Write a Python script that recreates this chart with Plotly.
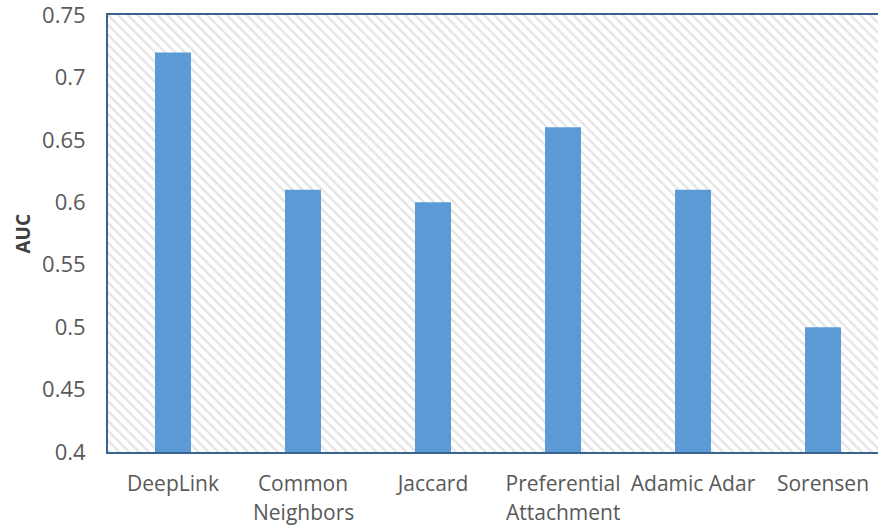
import plotly.graph_objects as go

categories = ["DeepLink", "Common<br>Neighbors", "Jaccard", "Preferential<br>Attachment", "Adamic Adar", "Sorensen"]
auc_values = [0.72, 0.61, 0.60, 0.66, 0.61, 0.50]
y_ticks = [0.4, 0.45, 0.5, 0.55, 0.6, 0.65, 0.7, 0.75]
y_tick_labels = ["0.4", "0.45", "0.5", "0.55", "0.6", "0.65", "0.7", "0.75"]

font_family = "Open Sans, Liberation Sans, sans-serif"
border_color = "#3A6291"
text_color = "#595959"
fs = 21

y_min, y_max = y_ticks[0], y_ticks[-1]
x_lo, x_hi = -0.5, len(categories) - 0.5 - 10 / 130

first_lines = [c.split("<br>")[0] for c in categories]
second_lines = [c.split("<br>")[1] if "<br>" in c else "" for c in categories]

W, H = 878, 525
L, T, B = 108, 15, 525 - 452
plot_h = H - T - B
plot_w = W - L

fig = go.Figure()

# hatched plot-area background
fig.add_trace(go.Bar(
    x=[(x_lo + x_hi) / 2], y=[y_max - y_min], base=[y_min], width=[x_hi - x_lo],
    marker=dict(color="white", line=dict(width=0),
                pattern=dict(shape="\\", size=7, solidity=0.35,
                             fgcolor="#cacaca", bgcolor="white")),
    hoverinfo="skip", showlegend=False,
))

fig.add_trace(go.Bar(
    x=list(range(len(categories))), y=[v - y_min for v in auc_values], base=y_min,
    width=0.277,
    marker=dict(color="#5B9BD5", line=dict(width=0)),
    showlegend=False,
))

annotations = []
for i, s in enumerate(second_lines):
    if s:
        annotations.append(dict(
            x=i, xref="x", y=-(512 - 452) / plot_h, yref="paper",
            text=s, showarrow=False, xanchor="center", yanchor="middle",
            font=dict(size=fs, color=text_color, family=font_family),
        ))
annotations.append(dict(
    x=-(108 - 22) / plot_w, xref="paper", y=0.5, yref="paper",
    text="<b>AUC</b>", showarrow=False, textangle=-90,
    xanchor="center", yanchor="middle",
    font=dict(size=19, color="#404040", family=font_family),
))

fig.update_layout(
    width=W, height=H,
    margin=dict(l=L, r=0, t=T, b=B),
    paper_bgcolor="white", plot_bgcolor="white",
    barmode="overlay",
    font=dict(family=font_family, color=text_color, size=fs),
    annotations=annotations,
    xaxis=dict(
        range=[x_lo, x_hi], automargin=False,
        tickmode="array", tickvals=list(range(len(categories))), ticktext=first_lines,
        showgrid=False, zeroline=False,
        showline=True, linecolor=border_color, linewidth=2, mirror=True,
        ticks="", ticklabelstandoff=12, ticklabeloverflow="allow",
        tickfont=dict(size=fs, color=text_color),
    ),
    yaxis=dict(
        range=[y_min, y_max], automargin=False,
        tickmode="array", tickvals=y_ticks, ticktext=y_tick_labels,
        showgrid=False, zeroline=False,
        showline=True, linecolor=border_color, linewidth=2,
        ticks="", ticklabelstandoff=16, ticklabeloverflow="allow",
        tickfont=dict(size=22, color=text_color),
    ),
)

fig.write_html("out.html", config={"displayModeBar": False},
               post_script="document.body.style.margin='0';")
